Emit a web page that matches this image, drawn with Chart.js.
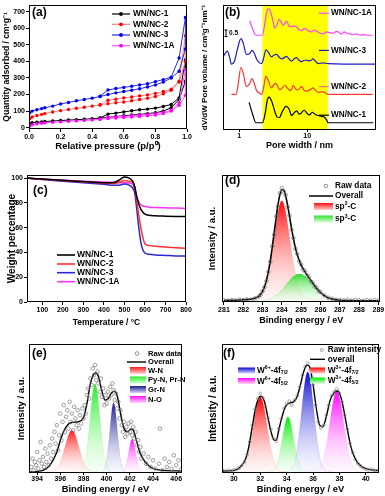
<!DOCTYPE html>
<html><head><meta charset="utf-8">
<script src="https://cdn.jsdelivr.net/npm/chart.js@4.4.0/dist/chart.umd.min.js"></script>
<style>
html,body{margin:0;padding:0;background:#fff;}
#wrap{position:relative;width:385px;height:496px;overflow:hidden;background:#fff;}
canvas{position:absolute;}
</style></head><body>
<div id="wrap">
<canvas id="ca" width="195" height="160" style="left:0px;top:0px"></canvas>
<canvas id="cb" width="193" height="160" style="left:192px;top:0px"></canvas>
<canvas id="cc" width="200" height="165" style="left:0px;top:165px"></canvas>
<canvas id="cd" width="193" height="165" style="left:192px;top:165px"></canvas>
<canvas id="ce" width="195" height="166" style="left:0px;top:330px"></canvas>
<canvas id="cf" width="193" height="166" style="left:192px;top:330px"></canvas>
</div>
<script>
// ---------------- DATA ----------------
// (a) N2 sorption isotherms
const isoLabels = ['WN/NC-1','WN/NC-2','WN/NC-3','WN/NC-1A'];
const isoPAds = [0.005,0.02,0.05,0.08,0.1,0.15,0.2,0.25,0.3,0.35,0.4,0.45,0.5,0.55,0.6,0.65,0.7,0.75,0.8,0.85,0.9,0.95,0.99];
const isoPDes = [0.99,0.95,0.9,0.85,0.8,0.75,0.7,0.65,0.6,0.55,0.5,0.45];
const isoNC1Ads = [25,30,33,35,37,40,43,46,48,51,54,58,63,67,72,76,80,85,90,100,120,170,280];
const isoNC1Des = [410,180,140,128,118,112,108,102,95,88,82,59];
const isoNC2Ads = [55,65,73,80,85,95,103,110,117,123,130,137,145,150,155,162,170,178,188,205,225,275,400];
const isoNC2Des = [555,280,232,218,207,198,192,185,180,172,165,138];
const isoNC3Ads = [90,100,108,115,120,130,143,152,162,170,178,188,200,210,218,226,235,245,258,275,300,340,475];
const isoNC3Des = [665,420,305,290,278,265,258,250,243,236,228,190];
const isoNC1AAds = [10,18,24,27,29,32,35,38,41,44,47,51,55,58,62,65,68,72,76,85,100,135,195];
const isoNC1ADes = [350,150,105,92,85,80,76,72,68,65,62,51];
const isoXTicks = [0,0.2,0.4,0.6,0.8,1.0];
const isoYTicks = [0,100,200,300,400,500,600,700];

// (b) pore size distributions (offset curves)
const psdLabels = ['WN/NC-1A','WN/NC-3','WN/NC-2','WN/NC-1'];
const psdW1 = [1.40,1.6,1.76,2.2,2.4,2.6,2.75,3.0,3.3,3.6,3.9,4.3,4.9,5.4,5.9,6.4,7.0,7.6,8.2,9.0,9.8,10.8,11.8,13.0,14.5,16,17.5,19,20.3,93];
const psdV1 = [2.1,1.1,0.55,0.55,1.2,2.3,2.5,2.2,1.5,1.0,0.95,1.4,1.8,1.6,1.1,1.3,1.45,1.2,1.3,1.5,1.3,1.15,1.35,1.2,1.1,1.05,1.0,0.8,0.55,0.55];
const psdW2 = [0.77,0.9,0.97,1.06,1.15,1.28,1.42,1.55,1.68,1.8,2.0,2.13,2.3,2.47,2.7,2.99,3.25,3.46,3.7,3.96,4.3,4.69,5.1,5.55,5.9,6.2,6.8,7.4,7.8,8.25,9.0,9.77,11,12.2,13.3,14.5,16,17.2,18.8,20.3,91];
const psdV2 = [2.7,2.7,3.5,4.75,4.3,3.3,3.5,3.9,3.5,3.0,2.8,2.7,3.3,4.1,3.7,3.2,3.45,3.55,3.3,3.05,3.2,3.4,3.2,3.0,3.1,3.4,3.1,3.05,3.2,3.3,3.0,2.95,3.05,3.2,3.0,2.85,2.9,2.9,2.8,2.7,2.7];
const psdW3 = [0.57,0.62,0.67,0.72,0.77,0.85,0.95,1.06,1.15,1.28,1.42,1.55,1.68,1.8,2.0,2.13,2.3,2.47,2.7,2.99,3.25,3.54,3.85,4.19,4.6,4.97,5.4,5.9,6.4,6.96,7.6,8.25,9.0,9.77,11,12.2,13.3,14.5,17,20.3,102];
const psdV3 = [5.45,5.8,6.0,5.6,5.0,5.2,6.2,6.95,6.6,5.75,5.8,6.05,5.8,5.4,5.1,5.05,5.5,6.1,5.9,5.55,5.7,5.75,5.55,5.4,5.5,5.6,5.4,5.25,5.4,5.5,5.3,5.2,5.3,5.3,5.25,5.4,5.2,5.05,5.1,5.05,5.0];
const psdW1A = [1.43,1.6,1.76,2.2,2.4,2.55,2.67,2.85,3.1,3.34,3.6,3.87,4.15,4.44,4.7,4.97,5.4,5.9,6.4,6.96,7.6,8.25,9.0,9.77,10.7,11.6,12.6,13.7,15.4,17.2,19,21.5,24,27,29.5,32,35,38,42,47,53,59,67,75,91];
const psdV1A = [8.3,7.6,7.2,7.2,8.2,9.0,9.2,9.1,8.4,7.75,8.0,8.4,8.2,7.95,8.1,8.25,7.9,7.85,7.9,7.85,7.6,7.55,7.7,7.65,7.5,7.45,7.6,7.5,7.35,7.3,7.45,7.4,7.35,7.5,7.4,7.3,7.45,7.35,7.3,7.25,7.3,7.2,7.25,7.2,7.2];
const psdLabelV = [8.875,6.05,3.3,1.125];
const psdBand = [2.2,20];
const psdXTicks = [1,10];

// (c) TGA
const tgaLabels = ['WN/NC-1','WN/NC-2','WN/NC-3','WN/NC-1A'];
const tgaT = [25,100,200,300,400,450,480,500,520,540,550,560,570,580,590,600,620,650,700,750,800];
const tgaNC1 = [100,99.3,98.2,97.2,96.2,96.5,99,100.8,100.2,97.5,93,85,79,75,72.5,71,70,69.6,69.3,69.1,69];
const tgaNC2 = [100,99,98,97,96,95.7,97,98,97.5,96.5,93,82,70,60,52,47,45.5,45,44.3,43.8,43.3];
const tgaNC3 = [100,98.8,97.5,96.3,95,94.2,94.5,95.2,94.5,92,88,75,60,48,42,39.5,38.5,38,37.6,37.2,37];
const tgaNC1A = [100,99.2,98.3,97.5,96.8,96.5,96.3,96.2,96,95,91,85,80.5,78.5,77.5,77,76.5,76.2,76,75.8,75.5];
const tgaXTicks = [100,200,300,400,500,600,700,800];
const tgaYTicks = [0,20,40,60,80,100];

// (d) C 1s XPS
const dE = [281.0,281.5,282.0,282.5,282.8,283.0,283.2,283.4,283.5,283.6,283.7,283.8,283.9,284.0,284.1,284.2,284.3,284.4,284.5,284.6,284.7,284.8,285.0,285.2,285.4,285.6,285.8,286.0,286.3,286.6,287.0,287.5,288.0,288.5,289.0];
const dSp2 = [1.6,2.3,3.6,6.5,13.3,27.2,58,113.9,151,191.8,232.5,268.2,292.9,302,292.9,268.2,232.5,191.8,151,113.9,82.4,58,27.2,13.3,7.9,5.6,4.3,3.6,2.7,2.2,1.6,1.2,0.9,0.7,0.6];
const dSp3 = [0,0,0,0.2,0.7,1.6,3.6,7.2,9.8,13.1,17.2,22.1,27.8,34.1,41,48.2,55.5,62.6,69,74.4,78.6,81.1,81.1,74.4,62.6,48.2,34.1,22.1,9.8,3.6,0.7,0.1,0,0,0];
const dOverall = [1.6,2.3,3.6,6.7,14.0,28.8,61.6,121.1,160.8,204.9,249.7,290.3,320.7,336.1,333.9,316.4,288,254.4,220,188.3,161,139.1,108.3,87.7,70.5,53.8,38.4,25.7,12.5,5.8,2.3,1.3,0.9,0.7,0.6];
const dRawE = [281.0,281.2,281.4,281.6,281.8,282.0,282.2,282.4,282.6,282.8,282.9,283.0,283.1,283.2,283.3,283.4,283.5,283.6,283.7,283.8,283.9,284.0,284.1,284.2,284.3,284.4,284.5,284.6,284.7,284.8,284.9,285.0,285.1,285.2,285.3,285.4,285.5,285.6,285.7,285.8,285.9,286.0,286.2,286.4,286.6,286.8,287.0,287.2,287.4,287.6,287.8,288.0,288.2,288.4,288.6,288.8,289.0];
const dRawI = [2,1,3,2,4,3,5,4,8,13,19,30,42,60,88,118,165,200,255,285,325,340,330,320,283,258,215,190,158,142,120,110,95,90,77,72,60,55,44,40,30,27,17,10,7,4,3,2,4,1,3,2,0,3,1,2,1];
const dXTicks = [281,282,283,284,285,286,287,288,289];

// (e) N 1s XPS
const eWNE = [394.6,395.0,395.4,395.8,396.1,396.4,396.6,396.8,397.0,397.2,397.4,397.6,397.9,398.2,398.6,399.0,399.4];
const eWNI = [0,0.4,3.3,16.3,39.8,75.1,99.7,118.1,125,118.1,99.7,75.1,39.8,16.3,3.3,0.4,0];
const ePyE = [397.6,397.8,398.0,398.2,398.4,398.6,398.8,399.0,399.2,399.4,399.6,399.8,400.0,400.2,400.4];
const ePyI = [1.2,4.9,16.6,44.9,97.7,170,237.2,265,237.2,170,97.7,44.9,16.6,4.9,1.2];
const eGrE = [399.6,399.8,400.0,400.2,400.3,400.4,400.5,400.6,400.7,400.8,400.9,401.0,401.2,401.4,401.6];
const eGrI = [1.7,9.6,36.8,96,134.4,170.8,197.3,207,197.3,170.8,134.4,96,36.8,9.6,1.7];
const eNOE = [401.3,401.5,401.7,401.9,402.0,402.1,402.2,402.3,402.4,402.5,402.7,402.9,403.1];
const eNOI = [1,6.2,24,59.5,78.9,93.6,99,93.6,78.9,59.5,24,6.2,1];
const eAllE = [393.3,393.6,394.0,394.5,395.1,395.65,396.1,396.5,396.95,397.5,397.97,398.3,398.6,398.84,399.07,399.3,399.57,399.86,400.14,400.43,400.67,400.93,401.2,401.5,401.8,402.1,402.3,402.6,402.9,403.33,403.77,404.35,405.2,406.4];
const eAllI = [0,0,2,5,20,55,105,135,148,150,160,205,265,290,297,285,245,215,220,237,242,225,175,130,120,129,125,90,55,30,15,7,4,3];
const eRawE = [393.5,393.6,393.7,393.8,393.9,394.0,394.1,394.2,394.3,394.4,394.5,394.6,394.7,394.8,394.9,395.0,395.1,395.2,395.3,395.4,395.5,395.6,395.7,395.8,395.9,396.0,396.1,396.2,396.3,396.4,396.5,396.6,396.7,396.8,396.9,397.0,397.1,397.2,397.3,397.4,397.5,397.6,397.7,397.8,397.9,398.0,398.1,398.2,398.3,398.4,398.5,398.6,398.7,398.8,398.9,399.0,399.1,399.2,399.3,399.4,399.5,399.6,399.7,399.8,399.9,400.0,400.1,400.2,400.3,400.4,400.5,400.6,400.7,400.8,400.9,401.0,401.1,401.2,401.3,401.4,401.5,401.6,401.7,401.8,401.9,402.0,402.1,402.2,402.3,402.4,402.5,402.6,402.7,402.8,402.9,403.0,403.2,403.4,403.6,403.8,404.0,404.2,404.5,404.6,404.8,405.0,405.2,405.4,405.6,405.8,406.0,406.2,406.4];
const eRawI = [15,40,5,30,20,60,10,35,90,25,45,15,70,30,55,20,80,40,100,60,120,85,140,65,110,175,95,150,200,120,165,185,130,210,150,175,125,195,160,140,185,130,170,145,190,160,200,175,230,250,220,280,260,310,290,320,275,300,265,240,280,225,250,200,230,205,240,220,255,230,265,245,215,235,190,210,160,185,140,120,150,105,135,115,145,120,150,110,135,100,120,80,95,60,75,40,55,25,45,15,35,10,25,130,5,40,15,30,10,50,20,35,8];
const eXTicks = [394,396,398,400,402,404,406];

// (f) W 4f XPS
const fRedE = [30.0,30.4,30.7,31.0,31.2,31.4,31.6,31.8,32.0,32.2,32.4,32.6,32.8,33.0,33.3,33.6,34.0];
const fRedI = [0.2,2.2,10.7,37.1,71,117.6,168.6,209.3,225,209.3,168.6,117.6,71,37.1,10.7,2.2,0.2];
const fGreenE = [32.5,32.8,33.1,33.3,33.5,33.7,33.9,34.1,34.3,34.5,34.7,34.9,35.1,35.4,35.7];
const fGreenI = [0,1.5,10.3,27.9,60.8,105.9,147.7,165,147.7,105.9,60.8,27.9,10.3,1.5,0];
const fBlueE = [33.6,34.0,34.3,34.6,34.8,35.0,35.2,35.4,35.6,35.8,36.0,36.2,36.4,36.6,36.9,37.2,37.6];
const fBlueI = [0,0.8,6.2,30.4,69.2,131.5,207.9,273.7,300,273.7,207.9,131.5,69.2,30.4,6.2,0.8,0];
const fMagE = [35.8,36.2,36.5,36.8,37.0,37.2,37.4,37.6,37.8,38.0,38.2,38.4,38.6,38.8,39.1,39.4,39.8];
const fMagI = [0.2,2.4,11.5,40,76.6,127,182,226,243,226,182,127,76.6,40,11.5,2.4,0.2];
const fAllE = [29.1,30.0,30.5,30.9,31.13,31.39,31.64,31.89,32.07,32.32,32.57,32.82,33.07,33.22,33.4,33.65,33.9,34.23,34.53,34.79,35.04,35.29,35.54,35.74,35.99,36.25,36.5,36.75,37.0,37.3,37.6,37.86,38.1,38.36,38.61,38.87,39.19,39.57,40.0,40.83,41.0];
const fAllI = [3,5,15,40,75,135,190,222,227,210,165,120,95,95,125,165,195,207,210,225,260,300,320,315,265,190,140,135,165,215,237,243,225,180,125,75,40,20,10,5,5];
const fRawE = [29.2,29.4,29.6,29.8,30.0,30.2,30.4,30.6,30.8,31.0,31.2,31.4,31.6,31.8,32.0,32.2,32.4,32.6,32.8,33.0,33.2,33.4,33.6,33.8,34.0,34.2,34.4,34.6,34.8,35.0,35.2,35.4,35.6,35.8,36.0,36.2,36.4,36.6,36.8,37.0,37.2,37.4,37.6,37.8,38.0,38.2,38.4,38.6,38.8,39.0,39.2,39.4,39.6,39.8,40.0,40.2,40.4,40.6,40.8];
const fRawI = [4,2,5,3,6,8,12,20,30,52,90,140,188,220,235,222,195,160,128,100,92,130,160,190,205,212,200,215,228,255,290,315,325,305,260,200,150,132,140,170,200,228,240,248,235,210,170,128,85,58,38,25,18,12,9,6,8,5,4];
const fXTicks = [30,32,34,36,38,40];

// ---------------- HELPERS ----------------
const FF = '"Liberation Sans", Arial, Helvetica, sans-serif';
Chart.defaults.font.family = FF;
Chart.defaults.font.weight = 'bold';
Chart.defaults.color = '#000';
Chart.defaults.animation = false;

function pts(xs, ys){ return xs.map((x,i)=>({x:x, y:ys[i]})); }
function setFont(ctx, size){ ctx.font = 'bold ' + size + 'px ' + FF; }
function text(ctx, s, x, y, size, align, color){
  setFont(ctx, size); ctx.fillStyle = color || '#000';
  ctx.textAlign = align || 'left'; ctx.textBaseline = 'middle'; ctx.fillText(s, x, y);
}
function rich(ctx, parts, x, y, size, color){
  ctx.textBaseline = 'middle'; ctx.textAlign = 'left'; ctx.fillStyle = color || '#000';
  let cx = x;
  for (const p of parts){
    const m = p[1]; const s = m ? size*0.62 : size;
    setFont(ctx, s);
    const dy = m === 'sup' ? -size*0.33 : (m === 'sub' ? size*0.28 : 0);
    ctx.fillText(p[0], cx, y + dy);
    cx += ctx.measureText(p[0]).width;
  }
}
function gbox(ctx, x, y, w, h, c1, c2){
  const g = ctx.createLinearGradient(0, y, 0, y + h);
  g.addColorStop(0, c1); g.addColorStop(1, c2);
  ctx.fillStyle = g; ctx.fillRect(x, y, w, h);
}
function hline(ctx, x1, x2, y, color, w){
  ctx.beginPath(); ctx.strokeStyle = color; ctx.lineWidth = w || 1.2;
  ctx.moveTo(x1, y); ctx.lineTo(x2, y); ctx.stroke();
}
function frame(chart){
  const c = chart.ctx, a = chart.chartArea;
  c.save(); c.strokeStyle = '#000'; c.lineWidth = 1;
  const l = Math.round(a.left), t = Math.round(a.top), r = Math.round(a.right), b = Math.round(a.bottom);
  c.strokeRect(l + 0.5, t + 0.5, r - l - 1, b - t - 1);
  c.restore();
}
function vgrad(arr, c1, c2){
  const top = Math.max.apply(null, arr);
  return function(ctx){
    const ch = ctx.chart;
    if (!ch.chartArea) return c2;
    const y0 = ch.scales.y.getPixelForValue(top), y1 = ch.scales.y.getPixelForValue(0);
    const g = ch.ctx.createLinearGradient(0, y0, 0, y1);
    g.addColorStop(0, c1); g.addColorStop(1, c2);
    return g;
  };
}
function xAxis(o, h){
  return {
    type: o.type || 'linear', position: 'bottom', min: o.min, max: o.max,
    afterBuildTicks: s => { s.ticks = o.ticks.map(v => ({value: v})); },
    afterFit: s => { s.height = h; s.paddingLeft = 0; s.paddingRight = 0; },
    grid: {display: true, drawOnChartArea: false, drawTicks: true, tickLength: o.tl, color: '#000', lineWidth: 1},
    border: {display: false},
    ticks: {display: true, autoSkip: false, maxRotation: 0, minRotation: 0, padding: o.tp,
            font: {size: o.ts || 7, weight: 'bold'}, color: '#000', callback: o.fmt || (v => String(v))},
    title: {display: true, text: o.title, color: '#000', font: {size: o.fs, weight: 'bold'}, padding: {top: 0, bottom: o.titlePad}}
  };
}
function yAxis(o, w){
  const hasT = !!o.ticks;
  return {
    type: 'linear', position: 'left', min: o.min, max: o.max,
    afterBuildTicks: s => { s.ticks = (o.ticks || []).map(v => ({value: v})); },
    afterFit: s => { s.width = w; s.paddingTop = 0; s.paddingBottom = 0; },
    grid: {display: hasT, drawOnChartArea: false, drawTicks: hasT, tickLength: 3, color: '#000', lineWidth: 1},
    border: {display: false},
    ticks: {display: hasT, autoSkip: false, padding: 1, font: {size: o.ts || 7, weight: 'bold'}, color: '#000'},
    title: {display: true, text: o.title, color: '#000', font: {size: o.fs, weight: 'bold'}, padding: {top: o.titlePad, bottom: 0}}
  };
}
function makeChart(id, geo, datasets, xo, yo, deco, before){
  const cv = document.getElementById(id);
  const W = cv.width, H = cv.height;
  return new Chart(cv, {
    type: 'scatter',
    data: {datasets: datasets},
    options: {
      responsive: false, animation: false, devicePixelRatio: 1,
      layout: {padding: {left: 0, top: geo.T, right: W - geo.R, bottom: 0}},
      plugins: {legend: {display: false}, tooltip: {enabled: false}},
      scales: {x: xAxis(xo, H - geo.B), y: yAxis(yo, geo.L)},
      elements: {point: {radius: 0}}
    },
    plugins: [{id: 'deco',
      beforeDatasetsDraw: c => { if (before) { c.ctx.save(); before(c); c.ctx.restore(); } },
      afterDraw: c => { frame(c); if (deco) { c.ctx.save(); deco(c); c.ctx.restore(); } }}]
  });
}
function smooth(xs, ys, color, width, extra){
  return Object.assign({data: pts(xs, ys), showLine: true, borderColor: color, borderWidth: width,
    pointRadius: 0, fill: false, cubicInterpolationMode: 'monotone'}, extra || {});
}

// ---------------- (a) ----------------
const isoLine = ['#000000','#ff7a7a','#2a2ad8','#ff55ff'];
const isoMark = ['#000000','#ff0000','#0000ff','#ff00ff'];
const isoAds = [isoNC1Ads, isoNC2Ads, isoNC3Ads, isoNC1AAds];
const isoDes = [isoNC1Des, isoNC2Des, isoNC3Des, isoNC1ADes];
const isoOrder = [3,1,0,2];
const dsA = isoLabels.map((lab, i) => ({
  label: lab, data: pts(isoPAds.concat(isoPDes), isoAds[i].concat(isoDes[i])),
  showLine: true, borderColor: isoLine[i], borderWidth: 1, tension: 0,
  pointRadius: 1.7, pointBackgroundColor: isoMark[i], pointBorderColor: isoMark[i], pointBorderWidth: 0,
  order: isoOrder[i]
}));
makeChart('ca', {L: 29, T: 5, R: 187, B: 129}, dsA,
  {min: 0, max: 1, ticks: isoXTicks, fmt: v => v.toFixed(1), title: 'Relative pressure (p/p\u2070)', fs: 9.5, titlePad: 8, tl: 3, tp: 0.5},
  {min: -8, max: 740, ticks: isoYTicks, title: 'Quantity adsorbed / cm\u00B3g\u207B\u00B9', fs: 8.6, titlePad: 1.5},
  c => {
    const ctx = c.ctx;
    text(ctx, '(a)', 32, 13, 12);
    const ys = [14, 24.3, 35, 45.7];
    isoLabels.forEach((lab, i) => {
      hline(ctx, 112, 130, ys[i], isoLine[i], 1.2);
      ctx.beginPath(); ctx.fillStyle = isoMark[i]; ctx.arc(121, ys[i], 1.9, 0, Math.PI*2); ctx.fill();
      text(ctx, lab, 133, ys[i], 8.3);
    });
  });

// ---------------- (b) ----------------
const psdColors = ['#ff44ff','#1c1cc8','#ff3535','#000000'];
const psdTagColors = ['#ff44ff','#1c1cc8','#ff7a7a','#000000'];
const dsB = [
  smooth(psdW1A, psdV1A, psdColors[0], 1.2),
  smooth(psdW3, psdV3, psdColors[1], 1.2),
  smooth(psdW2, psdV2, psdColors[2], 1.2),
  smooth(psdW1, psdV1, psdColors[3], 1.2)
];
makeChart('cb', {L: 31, T: 5, R: 184, B: 130}, dsB,
  {type: 'logarithmic', min: 0.58, max: 102, ticks: psdXTicks, fmt: v => String(v), title: 'Pore width / nm', fs: 9, titlePad: 8.9, tl: 2, tp: 0},
  {min: 0, max: 9.5, title: 'dV/dW Pore volume / cm\u00B3g\u207B\u00B9nm\u207B\u00B9', fs: 8.1, titlePad: 8},
  c => {
    const ctx = c.ctx, y = c.scales.y;
    text(ctx, '(b)', 33, 13, 12);
    // scale bar 0.5
    const bx = 34, y1 = y.getPixelForValue(7.6), y2 = y.getPixelForValue(7.1);
    ctx.strokeStyle = '#000'; ctx.lineWidth = 1;
    ctx.beginPath(); ctx.moveTo(bx, y1); ctx.lineTo(bx, y2);
    ctx.moveTo(bx - 1.5, y1); ctx.lineTo(bx + 1.5, y1);
    ctx.moveTo(bx - 1.5, y2); ctx.lineTo(bx + 1.5, y2); ctx.stroke();
    text(ctx, '0.5', 37, (y1 + y2) / 2, 6.5);
    psdLabels.forEach((lab, i) => {
      const py = y.getPixelForValue(psdLabelV[i]);
      hline(ctx, 127, 137, py, psdTagColors[i], 1.2);
      text(ctx, lab, 139, py, 8.2);
    });
  },
  c => {
    const ctx = c.ctx, a = c.chartArea, x = c.scales.x;
    const x1 = x.getPixelForValue(psdBand[0]), x2 = x.getPixelForValue(psdBand[1]);
    ctx.fillStyle = '#ffff00'; ctx.fillRect(x1, a.top, x2 - x1, a.bottom - a.top);
  });

// ---------------- (c) ----------------
const tgaColors = ['#000000','#ff3030','#2a2ad0','#ff33ff'];
const tgaSeries = [tgaNC1, tgaNC2, tgaNC3, tgaNC1A];
const dsC = tgaSeries.map((s, i) => smooth(tgaT, s, tgaColors[i], 1.5));
makeChart('cc', {L: 27, T: 10, R: 186, B: 137}, dsC,
  {min: 25, max: 800, ticks: tgaXTicks, title: 'Temperature / \u00B0C', fs: 8.5, titlePad: 2.6, tl: 3, tp: 0.5},
  {min: 0, max: 102.5, ticks: tgaYTicks, title: 'Weight percentage', fs: 10, titlePad: 6},
  c => {
    const ctx = c.ctx;
    text(ctx, '(c)', 33, 26, 12);
    const ys = [90, 99, 107.7, 116.7];
    tgaLabels.forEach((lab, i) => {
      hline(ctx, 57, 75, ys[i], tgaColors[i], 1.6);
      text(ctx, lab, 77, ys[i], 8.5);
    });
  });

// ---------------- (d) ----------------
const dsD = [
  {data: pts(dRawE, dRawI), showLine: false, pointRadius: 1.8, pointBorderWidth: 0.7,
   pointBorderColor: '#777', pointBackgroundColor: 'rgba(255,255,255,0)', order: 0},
  smooth(dE, dOverall, '#000', 1.6, {order: 1}),
  smooth(dE, dSp3, 'rgba(80,200,80,0.5)', 0.6, {fill: 'origin', backgroundColor: vgrad(dSp3, '#33dd33', 'rgba(220,255,220,0.25)'), order: 2, borderDash: [1,1]}),
  smooth(dE, dSp2, 'rgba(255,80,80,0.5)', 0.6, {fill: 'origin', backgroundColor: vgrad(dSp2, '#ff0a0a', 'rgba(255,225,225,0.25)'), order: 3, borderDash: [1,1]})
];
makeChart('cd', {L: 30, T: 10, R: 191, B: 137}, dsD,
  {min: 280.9, max: 289.1, ticks: dXTicks, title: 'Binding energy / eV', fs: 9, titlePad: 3.6, tl: 3, tp: 0.5},
  {min: -3, max: 380, title: 'Intensity / a.u.', fs: 9.5, titlePad: 14.3},
  c => {
    const ctx = c.ctx;
    text(ctx, '(d)', 33, 15.7, 12);
    ctx.beginPath(); ctx.strokeStyle = '#777'; ctx.lineWidth = 0.8; ctx.arc(134, 21, 1.8, 0, Math.PI*2); ctx.stroke();
    text(ctx, 'Raw data', 143, 21, 8.3);
    hline(ctx, 117, 141, 31, '#000', 1.5);
    text(ctx, 'Overall', 143, 31, 8.3);
    gbox(ctx, 122, 38, 19, 7, '#ff1010', '#ffd0d0');
    rich(ctx, [['sp'], ['2','sup'], ['-C']], 143, 41.5, 8.3);
    gbox(ctx, 122, 50.5, 19, 7, '#33e033', '#d8ffd8');
    rich(ctx, [['sp'], ['3','sup'], ['-C']], 143, 54, 8.3);
  });

// ---------------- (e) ----------------
const dsE = [
  {data: pts(eRawE, eRawI), showLine: false, pointRadius: 1.8, pointBorderWidth: 0.7,
   pointBorderColor: '#777', pointBackgroundColor: 'rgba(255,255,255,0)', order: 0},
  smooth(eAllE, eAllI, '#000', 1.4, {order: 1}),
  smooth(eWNE, eWNI, 'rgba(255,80,80,0.4)', 0.6, {fill: 'origin', backgroundColor: vgrad(eWNI, '#ff1a1a', 'rgba(255,230,230,0.25)'), order: 2, borderDash: [1,1]}),
  smooth(ePyE, ePyI, 'rgba(80,200,80,0.4)', 0.6, {fill: 'origin', backgroundColor: vgrad(ePyI, '#22ee22', 'rgba(225,255,225,0.25)'), order: 3, borderDash: [1,1]}),
  smooth(eGrE, eGrI, 'rgba(60,60,180,0.4)', 0.6, {fill: 'origin', backgroundColor: vgrad(eGrI, '#1a1a90', 'rgba(225,225,250,0.25)'), order: 4, borderDash: [1,1]}),
  smooth(eNOE, eNOI, 'rgba(255,80,255,0.4)', 0.6, {fill: 'origin', backgroundColor: vgrad(eNOI, '#ff10ff', 'rgba(255,225,255,0.25)'), order: 5, borderDash: [1,1]})
];
makeChart('ce', {L: 29, T: 14, R: 182, B: 143}, dsE,
  {min: 393.3, max: 406.5, ticks: eXTicks, title: 'Binding energy / eV', fs: 9.4, titlePad: 1, tl: 2, tp: 0},
  {min: -3, max: 383, title: 'Intensity / a.u.', fs: 9.5, titlePad: 16},
  c => {
    const ctx = c.ctx;
    text(ctx, '(e)', 32, 23.3, 12);
    ctx.beginPath(); ctx.strokeStyle = '#777'; ctx.lineWidth = 0.8; ctx.arc(137, 23.5, 1.8, 0, Math.PI*2); ctx.stroke();
    text(ctx, 'Raw data', 148, 23.5, 7.6);
    hline(ctx, 127, 146, 32, '#000', 1.4);
    text(ctx, 'Overall', 148, 32, 7.6);
    const items = [['W-N', '#ff1a1a', '#ffd6d6', 40.5], ['Py-N, Pr-N', '#22ee22', '#d6ffd6', 50], ['Gr-N', '#1a1a90', '#d6d6f5', 59.5], ['N-O', '#ff10ff', '#ffd6ff', 69.5]];
    items.forEach(it => { gbox(ctx, 130, it[3] - 3.5, 16, 7, it[1], it[2]); text(ctx, it[0], 148, it[3], 7.6); });
  });

// ---------------- (f) ----------------
const dsF = [
  {data: pts(fRawE, fRawI), showLine: false, pointRadius: 1.4, pointBorderWidth: 0.7,
   pointBorderColor: '#888', pointBackgroundColor: 'rgba(255,255,255,0)', order: 0},
  smooth(fAllE, fAllI, '#000', 1.4, {order: 1}),
  smooth(fRedE, fRedI, 'rgba(255,80,80,0.4)', 0.6, {fill: 'origin', backgroundColor: vgrad(fRedI, '#ff0000', 'rgba(255,228,228,0.25)'), order: 2, borderDash: [1,1]}),
  smooth(fGreenE, fGreenI, 'rgba(80,200,80,0.4)', 0.6, {fill: 'origin', backgroundColor: vgrad(fGreenI, '#00ee00', 'rgba(225,255,225,0.25)'), order: 3, borderDash: [1,1]}),
  smooth(fBlueE, fBlueI, 'rgba(60,60,200,0.4)', 0.6, {fill: 'origin', backgroundColor: vgrad(fBlueI, '#0a0ad0', 'rgba(228,228,255,0.25)'), order: 4, borderDash: [1,1]}),
  smooth(fMagE, fMagI, 'rgba(255,80,255,0.4)', 0.6, {fill: 'origin', backgroundColor: vgrad(fMagI, '#ff00ff', 'rgba(255,228,255,0.25)'), order: 5, borderDash: [1,1]})
];
makeChart('cf', {L: 30, T: 14, R: 187, B: 143}, dsF,
  {min: 29.1, max: 41.0, ticks: fXTicks, title: 'Binding energy / eV', fs: 9.4, titlePad: 1, tl: 2, tp: 0},
  {min: -3, max: 383, title: 'Intensity / a.u.', fs: 10, titlePad: 15.3},
  c => {
    const ctx = c.ctx;
    text(ctx, '(f)', 31, 24, 12);
    ctx.beginPath(); ctx.strokeStyle = '#888'; ctx.lineWidth = 0.8; ctx.arc(129.7, 20, 1.5, 0, Math.PI*2); ctx.stroke();
    text(ctx, 'Raw intensity', 135.7, 20, 8.3);
    hline(ctx, 118, 133, 29.3, '#000', 1.4);
    text(ctx, 'overall', 135.7, 29.3, 8.3);
    gbox(ctx, 118, 37.5, 15, 6, '#ff0000', '#ffd0d0');
    rich(ctx, [['W'], ['3+','sup'], ['-4f'], ['7/2','sub']], 135.7, 40.7, 8.3);
    gbox(ctx, 118, 47.5, 15, 6, '#00ee00', '#d0ffd0');
    rich(ctx, [['W'], ['3+','sup'], ['-4f'], ['5/2','sub']], 135.7, 50.7, 8.3);
    gbox(ctx, 46, 37.5, 17, 6, '#0a0ad0', '#d8d8ff');
    rich(ctx, [['W'], ['6+','sup'], ['-4f'], ['7/2','sub']], 65, 40.5, 8.3);
    gbox(ctx, 46, 48, 17, 6, '#ff00ff', '#ffd8ff');
    rich(ctx, [['W'], ['6+','sup'], ['-4f'], ['5/2','sub']], 65, 51.5, 8.3);
  });
</script>
</body></html>
